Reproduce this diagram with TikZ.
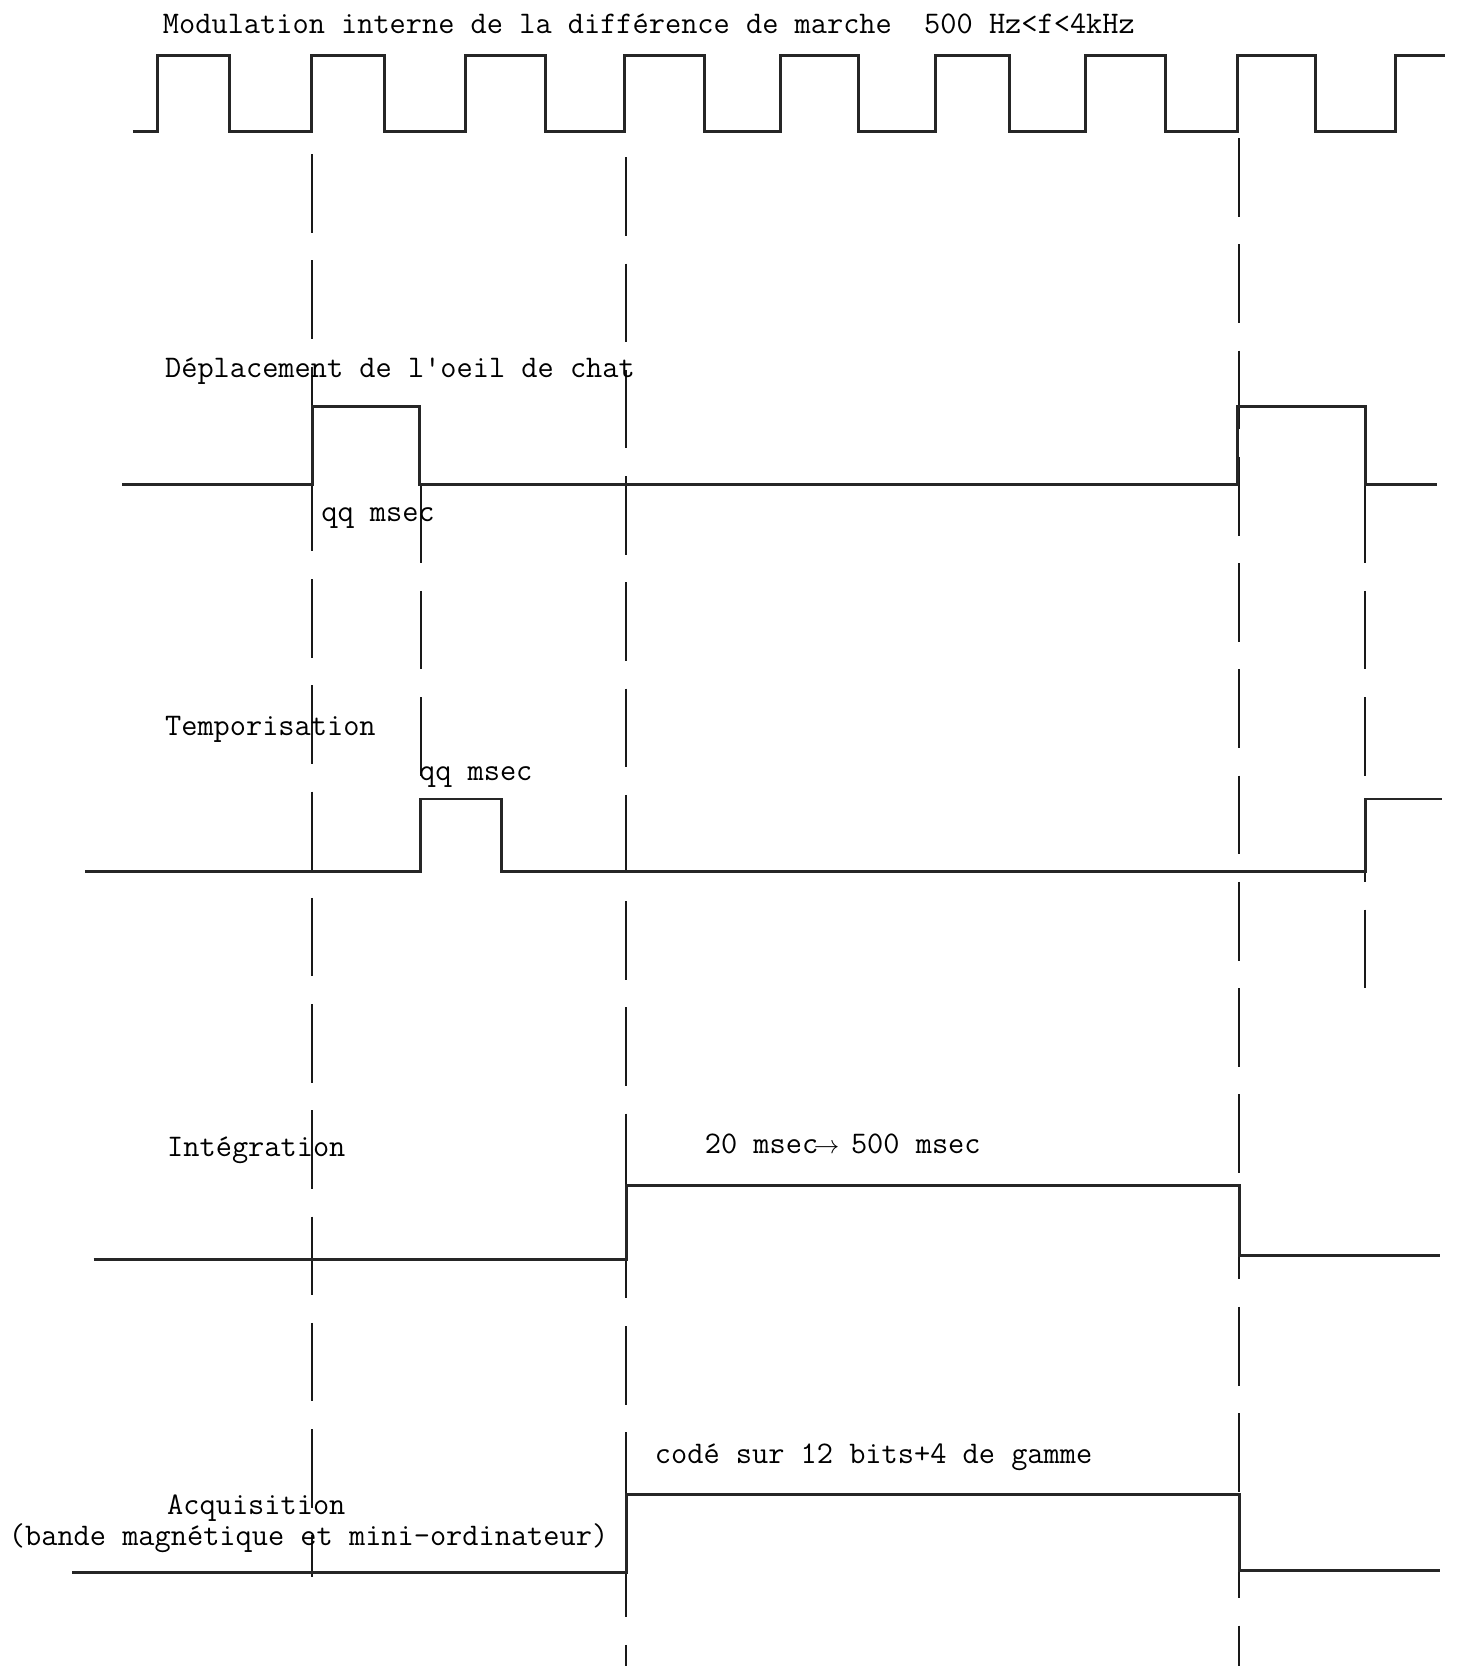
\documentclass[tikz,border=0pt]{standalone}
\usepackage{fontspec}
\begin{document}
\begin{tikzpicture}[x=0.5pt,y=-0.5pt,
  wave/.style={line width=1.4pt, line join=miter, black!85},
  guide/.style={line width=0.9pt, black!90, dash pattern=on 37pt off 13pt},
  lbl/.style={anchor=base west, inner sep=0pt, font=\fontsize{14.8}{17}\selectfont\ttfamily}]
\useasboundingbox (0,0) rectangle (1373,1568);

% guide lines
\coordinate (g1a) at (294,145);  \coordinate (g1b) at (294,1484);
\coordinate (g2a) at (396,456);  \coordinate (g2b) at (396,752);
\coordinate (g3a) at (589,148);  \coordinate (g3b) at (589,1568);
\coordinate (g4a) at (1166,130); \coordinate (g4b) at (1166,1568);
\coordinate (g5a) at (1285,456); \coordinate (g5b) at (1285,954);
\draw[guide] (g1a) -- (g1b);
\draw[guide] (g2a) -- (g2b);
\draw[guide] (g3a) -- (g3b);
\draw[guide] (g4a) -- (g4b);
\draw[guide] (g5a) -- (g5b);

% modulation square wave
\draw[wave] (125,124) -- (148,124) -- (148,52) -- (216,52) -- (216,124) -- (293,124) -- (293,52) -- (362,52) -- (362,124)
 -- (438,124) -- (438,52) -- (513,52) -- (513,124) -- (588,124) -- (588,52) -- (663,52) -- (663,124)
 -- (735,124) -- (735,52) -- (808,52) -- (808,124) -- (880,124) -- (880,52) -- (950,52) -- (950,124)
 -- (1022,124) -- (1022,52) -- (1097,52) -- (1097,124) -- (1165,124) -- (1165,52) -- (1238,52) -- (1238,124)
 -- (1313,124) -- (1313,52) -- (1360,52);

% deplacement
\draw[wave] (115,456) -- (294,456) -- (294,383) -- (395,383) -- (395,456) -- (1165,456) -- (1165,383) -- (1285,383) -- (1285,456) -- (1352,456);
% temporisation
\draw[wave] (80,820) -- (396,820) -- (396,752) -- (472,752) -- (472,820) -- (1285,820) -- (1285,752) -- (1357,752);
% integration
\draw[wave] (88,1185) -- (590,1185) -- (590,1116) -- (1167,1116) -- (1167,1182) -- (1355,1182);
% acquisition
\draw[wave] (68,1480) -- (590,1480) -- (590,1407) -- (1167,1407) -- (1167,1478) -- (1355,1478);

% labels
\node[lbl] (tmod) at (153,32) {Modulation interne de la différence de marche\ \ 500 Hz<f<4kHz};
\node[lbl] (tdep) at (155,355) {Déplacement de l'oeil de chat};
\node[lbl] (tqq1) at (302,491) {qq msec};
\node[lbl] (ttemp) at (155,692) {Temporisation};
\node[lbl] (tqq2) at (394,735) {qq msec};
\node[lbl] (tint) at (157,1088) {Intégration};
\node[lbl] (tdur) at (663,1086) {20 msec\makebox[7.8pt]{\fontsize{12.5}{12.5}\selectfont$\rightarrow$} 500 msec};
\node[lbl] (tcode) at (616,1377) {codé sur 12 bits+4 de gamme};
\node[lbl] (tacq) at (157,1425) {Acquisition};
\node[lbl] (tbande) at (8,1455) {(bande magnétique et mini-ordinateur)};
\end{tikzpicture}
\end{document}
